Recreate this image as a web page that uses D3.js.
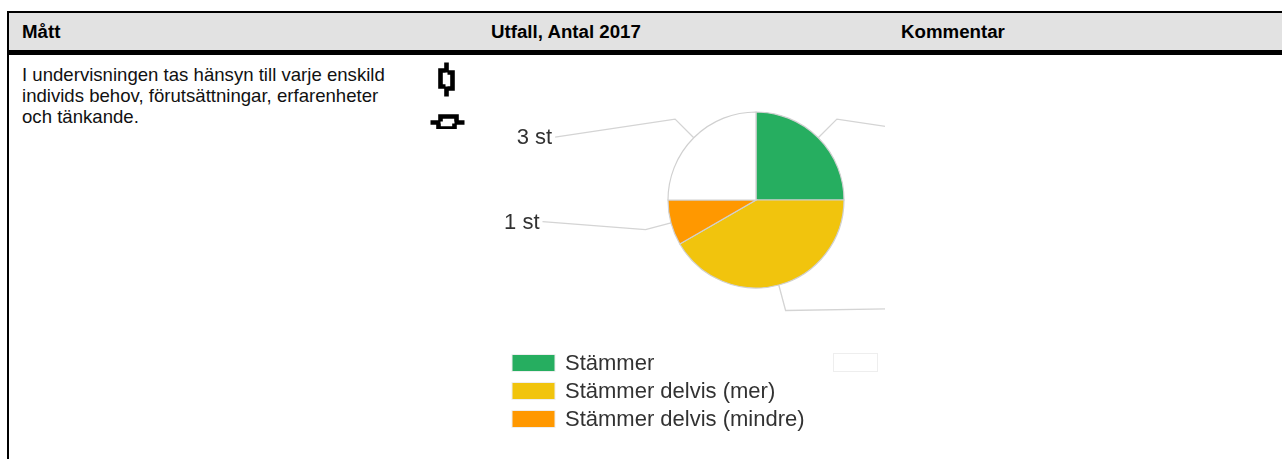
<!DOCTYPE html>
<html lang="en">
<head>
    <meta charset="UTF-8">
    <title>Utfall</title>
    <script src="https://cdn.jsdelivr.net/npm/d3@7"></script>
    <style>
        html, body { margin: 0; padding: 0; background: #fff; }
        svg { display: block; }
        .head { font: bold 18.7px "Liberation Sans", Arial, sans-serif; fill: #000; }
        .cell { font: 18.6px "Liberation Sans", Arial, sans-serif; fill: #111; }
        .pie-label { font: 22px "Liberation Sans", Arial, sans-serif; fill: #333; }
        .legend-label { font: 22px "Liberation Sans", Arial, sans-serif; fill: #333; }
    </style>
</head>
<body>
<svg id="chart" width="1282" height="459"></svg>
<script>
    // data
    var columns = ['Mått', 'Utfall, Antal 2017', 'Kommentar']
    var measureLines = [
        'I undervisningen tas hänsyn till varje enskild',
        'individs behov, förutsättningar, erfarenheter',
        'och tänkande.'
    ]
    var categories = ['Stämmer', 'Stämmer delvis (mer)', 'Stämmer delvis (mindre)', '']
    var values = [3, 5, 1, 3]
    var colors = ['#27ae60', '#f1c40f', '#ff9800', '#ffffff']

    var width = 1282,
        height = 459
    var svg = d3.select('#chart')

    // table frame
    svg.append('rect').attr('x', 9).attr('y', 13).attr('width', width - 9).attr('height', 37).attr('fill', '#e2e2e2')
    svg.append('rect').attr('x', 7).attr('y', 11).attr('width', width - 7).attr('height', 2).attr('fill', '#000')
    svg.append('rect').attr('x', 7).attr('y', 50).attr('width', width - 7).attr('height', 5).attr('fill', '#000')
    svg.append('rect').attr('x', 7).attr('y', 11).attr('width', 2).attr('height', height - 11).attr('fill', '#000')

    var columnX = [22, 491, 901]
    svg.selectAll('.head').data(columns).enter().append('text')
        .attr('class', 'head')
        .attr('x', function (d, i) { return columnX[i] })
        .attr('y', 38)
        .text(function (d) { return d })

    svg.selectAll('.cell').data(measureLines).enter().append('text')
        .attr('class', 'cell')
        .attr('x', 22)
        .attr('y', function (d, i) { return 81 + i * 21 })
        .text(function (d) { return d })

    // chart picture, soft like a scaled screenshot and cut off on the right
    var defs = svg.append('defs')
    defs.append('clipPath').attr('id', 'cut').append('rect')
        .attr('x', 490).attr('y', 60).attr('width', 395).attr('height', 399)
    var blur = defs.append('filter').attr('id', 'soft')
        .attr('x', 0).attr('y', 0).attr('width', 1).attr('height', 1)
        .attr('filterUnits', 'objectBoundingBox')
    blur.append('feGaussianBlur').attr('stdDeviation', 0.45)

    // the two chain icons
    var chain = 'M0,-17V-7 M0,7V17 M-1,-9H-6V7H-1 M1,-7H6V9H1'
    var icons = svg.append('g').attr('fill', 'none').attr('stroke', '#000').attr('stroke-width', 4.6)
        .attr('filter', 'url(#soft)')
    icons.append('path').attr('d', chain).attr('transform', 'translate(446.5,79.5)')
    icons.append('path').attr('d', chain).attr('transform', 'translate(447.5,122.5) rotate(90)')

    var chart = svg.append('g').attr('clip-path', 'url(#cut)')
        .append('g').attr('filter', 'url(#soft)')
    chart.append('rect').attr('x', 490).attr('y', 60).attr('width', 395).attr('height', 399).attr('fill', '#fff')

    var radius = 88,
        cx = 756,
        cy = 200
    var pie = d3.pie().sort(null).value(function (d) { return d })
    var arcs = pie(values)
    var arc = d3.arc().innerRadius(0).outerRadius(radius)
    var edgeArc = d3.arc().innerRadius(radius).outerRadius(radius)
    var elbowArc = d3.arc().innerRadius(radius * 1.3).outerRadius(radius * 1.3)
    var line = d3.line()

    // from the elbow to where the label sits
    var leaderRuns = [[120, 18], [120, -2], [-103, -8], [-120, 18]]

    var pieG = chart.append('g').attr('transform', 'translate(' + cx + ',' + cy + ')')

    pieG.selectAll('.leader').data(arcs).enter().append('path')
        .attr('class', 'leader')
        .attr('fill', 'none')
        .attr('stroke', '#d4d4d4')
        .attr('stroke-width', 1.3)
        .attr('d', function (d, i) {
            var a = edgeArc.centroid(d), b = elbowArc.centroid(d)
            return line([a, b, [b[0] + leaderRuns[i][0], b[1] + leaderRuns[i][1]]])
        })

    pieG.selectAll('.slice').data(arcs).enter().append('path')
        .attr('class', 'slice')
        .attr('d', arc)
        .attr('fill', function (d, i) { return colors[i] })
        .attr('stroke', '#d0d0d0')
        .attr('stroke-width', 1.2)

    // the labels of the right side fall outside the picture
    pieG.selectAll('.pie-label').data(arcs.filter(function (d) { return d.startAngle >= Math.PI })).enter().append('text')
        .attr('class', 'pie-label')
        .attr('text-anchor', 'end')
        .attr('x', function (d) { return elbowArc.centroid(d)[0] + leaderRuns[d.index][0] - 3 })
        .attr('y', function (d) { return elbowArc.centroid(d)[1] + leaderRuns[d.index][1] + 7 })
        .text(function (d) { return d.value + ' st' })

    // legend
    var legendY = d3.scalePoint().domain(d3.range(3)).range([363, 419])
    var legend = chart.selectAll('.legend-row').data(categories.slice(0, 3)).enter().append('g')
        .attr('class', 'legend-row')
        .attr('transform', function (d, i) { return 'translate(512,' + legendY(i) + ')' })
    legend.append('rect')
        .attr('y', -8.5).attr('width', 43).attr('height', 17)
        .attr('fill', function (d, i) { return colors[i] })
        .attr('stroke', '#eee')
    legend.append('text')
        .attr('class', 'legend-label')
        .attr('x', 53)
        .attr('y', 7)
        .text(function (d) { return d })

    // fourth legend entry has no name and a white swatch
    chart.append('rect')
        .attr('x', 833.5).attr('y', 353.5).attr('width', 44).attr('height', 18)
        .attr('fill', colors[3])
        .attr('stroke', '#eee')
</script>
</body>
</html>
